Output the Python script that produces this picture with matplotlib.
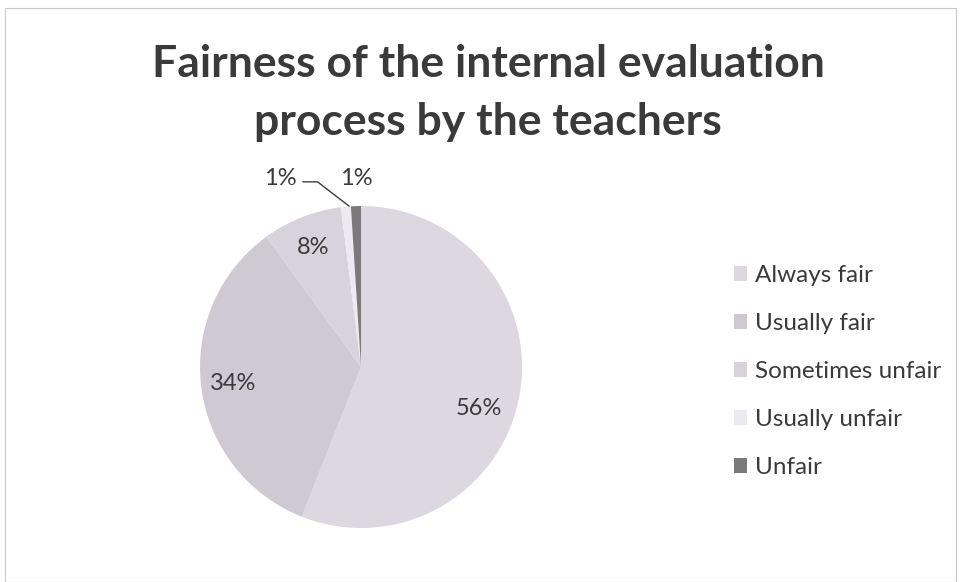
import matplotlib
matplotlib.use("Agg")
import matplotlib.pyplot as plt
from matplotlib.patches import Rectangle
import numpy as np

categories = ["Always fair", "Usually fair", "Sometimes unfair", "Usually unfair", "Unfair"]
values = [56, 34, 8, 1, 1]
colors = ["#dcd7e1", "#cfc9d4", "#d8d2dc", "#ede9f0", "#7a7a7c"]
title = "Fairness of the internal evaluation\nprocess by the teachers"

W, H = 961, 582
fig = plt.figure(figsize=(W / 100, H / 100), dpi=100)
fig.patch.set_facecolor("white")

# chart border
fig.add_artist(Rectangle((5 / W, 0), (W - 10) / W, 1 - 8 / H, transform=fig.transFigure,
                         fill=False, edgecolor="#c8c8c8", linewidth=0.8))

fig.text(488 / W, 1 - 93 / H, title, ha="center", va="center", fontsize=32,
         fontweight="bold", family="Lato", color="#3a3a3a", linespacing=1.52)

cx, cy, r = 361, 367, 161
ax = fig.add_axes([(cx - r) / W, 1 - (cy + r) / H, 2 * r / W, 2 * r / H])
wedges, texts, autotexts = ax.pie(values, colors=colors, startangle=90, counterclock=False,
                                  autopct=lambda p: f"{p:.0f}%", pctdistance=0.8,
                                  radius=1.0, wedgeprops=dict(linewidth=0))
ax.set_xlim(-1, 1)
ax.set_ylim(-1, 1)
ax.set_aspect("auto")
ax.axis("off")
for t in autotexts:
    t.set_fontsize(17)
    t.set_family("Lato")
    t.set_color("#3a3a3a")

autotexts[0].set_position((0.73, -0.26))

# small slices: labels outside
t3, t4 = autotexts[3], autotexts[4]
t3.set_position((-0.5, 1.17))
t3.set_ha("center")
t4.set_position((-0.03, 1.17))
t4.set_ha("center")
ax.plot([-0.36, -0.27, -0.075], [1.15, 1.15, 1.0], color="#3a3a3a", lw=1, clip_on=False)

handles = [Rectangle((0, 0), 1, 1, facecolor=c, edgecolor="none") for c in colors]
leg = fig.legend(handles, categories, loc="upper left", bbox_to_anchor=(712 / W, 1 - 243 / H),
                 frameon=False, handlelength=0.55, handleheight=0.55,
                 handletextpad=0.3, labelspacing=1.11, prop={"family": "Lato", "size": 17.5})
for t in leg.get_texts():
    t.set_color("#3a3a3a")

fig.savefig("out.png", dpi=100)
